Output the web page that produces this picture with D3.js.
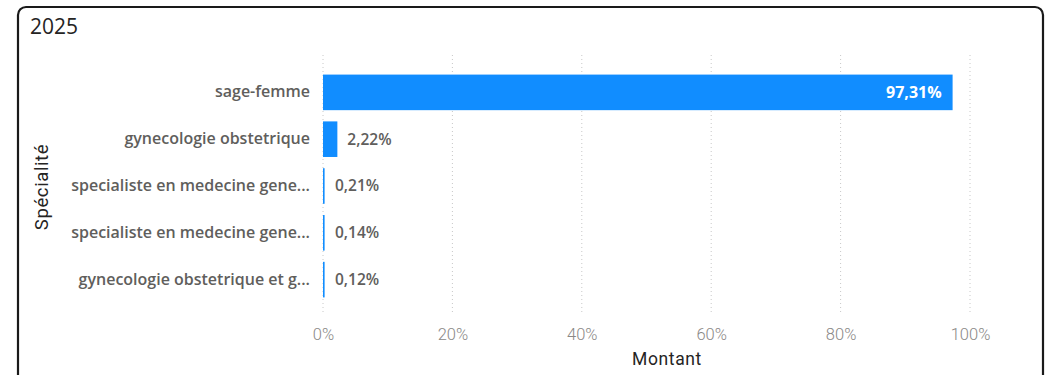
<!DOCTYPE html>
<html>
<head>
<meta charset="utf-8">
<script src="https://cdn.jsdelivr.net/npm/d3@7"></script>
<style>
  html, body { margin: 0; padding: 0; background: #fff; }
  svg { display: block; }
</style>
</head>
<body>
<svg id="chart" width="1050" height="375"></svg>
<script>
// Share of amount by specialty, 2025
const categories = [
  "sage-femme",
  "gynecologie obstetrique",
  "specialiste en medecine gene...",
  "specialiste en medecine gene...",
  "gynecologie obstetrique et g..."
];
const values = [97.31, 2.22, 0.21, 0.14, 0.12];
const valueLabels = ["97,31%", "2,22%", "0,21%", "0,14%", "0,12%"];
const tickValues = [0, 20, 40, 60, 80, 100];
const tickLabels = ["0%", "20%", "40%", "60%", "80%", "100%"];

const svg = d3.select("#chart");

// card frame
svg.append("rect")
  .attr("x", 18).attr("y", 7)
  .attr("width", 1025).attr("height", 390)
  .attr("rx", 8).attr("ry", 8)
  .attr("fill", "#fff")
  .attr("stroke", "#1a1a1a")
  .attr("stroke-width", 2.2);

svg.append("text")
  .attr("x", 30).attr("y", 34)
  .attr("font-family", "'Open Sans', 'DejaVu Sans', sans-serif")
  .attr("font-size", 21)
  .attr("fill", "#252423")
  .text("2025");

const x = d3.scaleLinear().domain([0, 100]).range([323, 970]);
const y = d3.scaleBand()
  .domain(d3.range(categories.length))
  .range([68.5, 303.5])
  .paddingInner(0.24)
  .paddingOuter(0.13);

// dotted vertical gridlines
svg.append("g")
  .selectAll("line")
  .data(tickValues)
  .join("line")
  .attr("x1", d => x(d)).attr("x2", d => x(d))
  .attr("y1", 55).attr("y2", 312)
  .attr("stroke", "#c8c8c8")
  .attr("stroke-width", 1)
  .attr("stroke-dasharray", "1,3");

// x axis tick labels
const xAxis = d3.axisBottom(x)
  .tickValues(tickValues)
  .tickFormat((d, i) => tickLabels[i])
  .tickSize(0)
  .tickPadding(0);
const gx = svg.append("g")
  .attr("transform", "translate(0,328)")
  .call(xAxis);
gx.select(".domain").remove();
gx.selectAll("text")
  .attr("font-family", "Roboto, sans-serif")
  .attr("font-size", 16.5)
  .attr("fill", "#8a8886")
  .attr("font-weight", 300);

// y axis category labels
const yAxis = d3.axisLeft(y)
  .tickFormat(i => categories[i])
  .tickSize(0)
  .tickPadding(13);
const gy = svg.append("g")
  .attr("transform", `translate(${x(0)},0)`)
  .call(yAxis);
gy.select(".domain").remove();
gy.selectAll("text")
  .attr("font-family", "'Open Sans', 'Noto Sans', sans-serif")
  .attr("font-size", 16)
  .attr("font-weight", 600)
  .attr("fill", "#605e5c");

// bars
svg.append("g")
  .selectAll("rect")
  .data(values)
  .join("rect")
  .attr("x", x(0))
  .attr("y", (d, i) => y(i))
  .attr("width", d => Math.max(1.6, x(d) - x(0)))
  .attr("height", y.bandwidth())
  .attr("fill", "#118dff");

// data labels
svg.append("g")
  .selectAll("text")
  .data(values)
  .join("text")
  .attr("x", d => d > 50 ? x(d) - 11 : Math.max(x(d), x(0) + 2) + 10)
  .attr("y", (d, i) => y(i) + y.bandwidth() / 2)
  .attr("dy", "0.35em")
  .attr("text-anchor", d => d > 50 ? "end" : "start")
  .attr("font-family", "'Open Sans', 'Noto Sans', sans-serif")
  .attr("font-size", d => d > 50 ? 16 : 15.5)
  .attr("font-weight", d => d > 50 ? 700 : 600)
  .attr("fill", d => d > 50 ? "#ffffff" : "#605e5c")
  .text((d, i) => valueLabels[i]);

// axis titles
svg.append("text")
  .attr("x", 667).attr("y", 365)
  .attr("text-anchor", "middle")
  .attr("font-family", "Roboto, sans-serif")
  .attr("font-size", 17.5)
  .attr("letter-spacing", 0.6)
  .attr("fill", "#252423")
  .text("Montant");

svg.append("text")
  .attr("transform", "translate(48,187) rotate(-90)")
  .attr("text-anchor", "middle")
  .attr("font-family", "Roboto, sans-serif")
  .attr("font-size", 18.5)
  .attr("letter-spacing", 0.6)
  .attr("fill", "#252423")
  .text("Spécialité");
</script>
</body>
</html>
